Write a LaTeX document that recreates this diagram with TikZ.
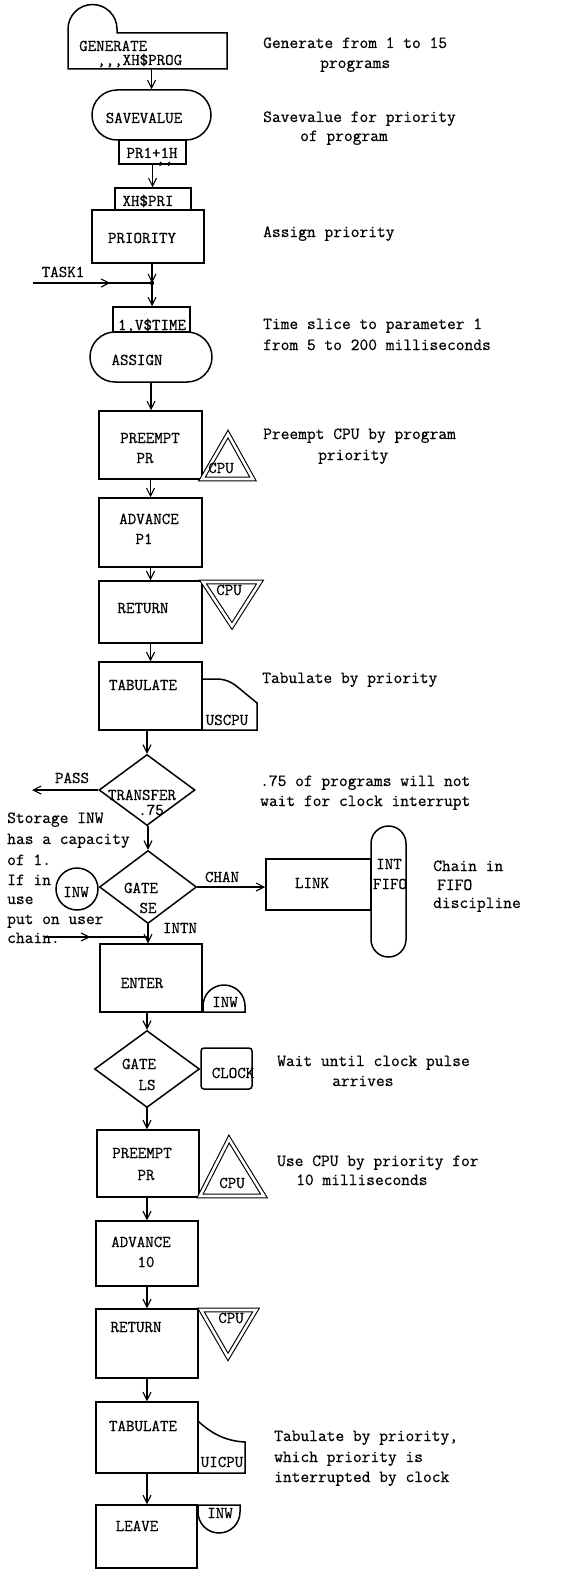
\documentclass[tikz,border=0pt]{standalone}
\usepackage{fontspec}
\newfontfamily\twfont{Latin Modern Mono}[FakeBold=0.6]
\usetikzlibrary{arrows.meta,shapes.geometric,decorations.markings,calc}
\begin{document}
\begin{tikzpicture}[x=1pt,y=-1pt,
  blk/.style={draw, line width=1.5pt, inner sep=0pt, rectangle},
  shp/.style={line width=1.5pt},
  dbl/.style={line width=1.1pt, double, double distance=2.6pt},
  lbl/.style={font=\fontsize{16.5}{19}\selectfont\twfont, inner sep=0pt, anchor=base},
  lblw/.style={font=\fontsize{16.5}{19}\selectfont\twfont, inner sep=0pt, anchor=base west},
  cmt/.style={font=\fontsize{17}{21}\selectfont\twfont, inner sep=0pt, anchor=base west},
  arr/.style={line width=1.1pt, -{Straight Barb[length=8pt,width=8pt]}},
  midarr/.style={line width=1.1pt, postaction={decorate},
    decoration={markings, mark=at position #1 with {\arrow{Straight Barb[length=8pt,width=8pt]}}}},
]
\fill[white] (0,0) rectangle (584,1570);
\useasboundingbox (0,0) rectangle (584,1570);

% ---------- blocks ----------
\node[inner sep=0pt, minimum width=159, minimum height=36] (gen) at (147.5,51) {};
\draw[shp] (68,69) -- (68,29) .. controls (68,15.5) and (79,4.5) .. (92.5,4.5)
  .. controls (106,4.5) and (117,15.5) .. (117,29) -- (117,33) -- (227,33) -- (227,69) -- cycle;
\node[blk, rounded corners=25pt, minimum width=119, minimum height=50] (save) at (151.5,115) {};
\node[blk, minimum width=67, minimum height=24] (pr1) at (152.5,152) {};
\node[blk, minimum width=76, minimum height=22] (xhpri) at (153,199) {};
\node[blk, minimum width=112, minimum height=53] (prio) at (148,236.5) {};
\node[blk, minimum width=77, minimum height=25] (vtime) at (151.5,319.5) {};
\node[blk, rounded corners=25pt, minimum width=122, minimum height=50] (assign) at (151,357) {};
\node[blk, minimum width=103, minimum height=68] (pre1) at (150.5,445) {};
\node[blk, minimum width=103, minimum height=69] (adv1) at (150.5,532.5) {};
\node[blk, minimum width=103, minimum height=62] (ret1) at (150.5,612) {};
\node[blk, minimum width=103, minimum height=68] (tab1) at (150.5,696) {};
\node[draw, line width=1.5pt, diamond, inner sep=0pt, minimum width=96, minimum height=71] (transfer) at (147,790) {};
\node[draw, line width=1.5pt, diamond, inner sep=0pt, minimum width=97, minimum height=73] (gate1) at (148,887) {};
\node[draw, line width=1.5pt, circle, inner sep=0pt, minimum size=42] (inw1) at (77,889) {};
\node[blk, minimum width=105, minimum height=51] (link) at (318.5,884.5) {};
\node[blk, rounded corners=17.5pt, minimum width=35, minimum height=131] (intfifo) at (388.5,891.5) {};
\node[blk, minimum width=102, minimum height=68] (enter) at (151,978) {};
\node[draw, line width=1.5pt, diamond, inner sep=0pt, minimum width=105, minimum height=77] (gate2) at (147,1069) {};
\node[blk, rounded corners=3pt, minimum width=51, minimum height=41] (clock) at (226.5,1068.5) {};
\node[blk, minimum width=102, minimum height=67] (pre2) at (148,1163.5) {};
\node[blk, minimum width=102, minimum height=65] (adv2) at (147,1253.5) {};
\node[blk, minimum width=102, minimum height=69] (ret2) at (147,1343.5) {};
\node[blk, minimum width=102, minimum height=71] (tab2) at (147,1437.5) {};
\node[blk, minimum width=101, minimum height=63] (leave) at (146.5,1536.5) {};

% ---------- attached symbols ----------
\draw[dbl] (202,479) -- (228,434) -- (253,479) -- cycle;
\draw[dbl] (203,582) -- (260,582) -- (232,626) -- cycle;
\draw[shp] (202,679) -- (216,679) .. controls (228,679) and (234,684) .. (240,689) -- (257,703) -- (257,730) -- (202,730);
\draw[shp] (203,1012) -- (203,1006) .. controls (203,994.4) and (212.4,985) .. (224,985)
  .. controls (235.6,985) and (245,994.4) .. (245,1006) -- (245,1012) -- cycle;
\draw[dbl] (200,1196) -- (229,1139) -- (264,1196) -- cycle;
\draw[dbl] (201,1310) -- (256,1310) -- (228,1357) -- cycle;
\draw[shp] (198,1421) .. controls (212,1434) and (226,1441) .. (245,1442) -- (245,1473) -- (198,1473);
\draw[shp] (198,1505) -- (240,1505) -- (240,1512) .. controls (240,1523.6) and (230.6,1533) .. (219,1533)
  .. controls (207.4,1533) and (198,1523.6) .. (198,1512) -- cycle;

% ---------- connectors ----------
\coordinate (j1) at (152,283);
\coordinate (task) at (33,283);
\coordinate (pass) at (32,790);
\coordinate (j2) at (148,937);
\coordinate (usr) at (45,937);

\draw[arr] (save.north |- gen.south) -- (save.north);
\draw[arr] (pr1.south) -- (pr1.south |- xhpri.north);
\draw[arr] (j1 |- prio.south) -- (j1);
\fill (j1) circle (2.2);
\draw[arr] (j1) -- (j1 |- vtime.north);
\draw[midarr=0.65] (task) -- (j1);
\draw[arr] (assign.south) -- (assign.south |- pre1.north);
\draw[arr] (pre1.south) -- (adv1.north);
\draw[arr] (adv1.south) -- (ret1.north);
\draw[arr] (ret1.south) -- (tab1.north);
\draw[arr] (transfer.north |- tab1.south) -- (transfer.north);
\draw[arr] (transfer.west) -- (pass);
\draw[arr] (gate1.north |- transfer.south) -- (gate1.north);
\draw[arr] (gate1.east) -- (link.west |- gate1.east);
\draw[arr] (gate1.south) -- (gate1.south |- enter.north);
\draw[midarr=0.44] (usr) -- (j2);
\draw[arr] (gate2.north |- enter.south) -- (gate2.north);
\draw[arr] (gate2.south) -- (gate2.south |- pre2.north);
\draw[arr] (adv2.north |- pre2.south) -- (adv2.north);
\draw[arr] (adv2.south) -- (ret2.north);
\draw[arr] (ret2.south) -- (tab2.north);
\draw[arr] (tab2.south) -- (tab2.south |- leave.north);

% ---------- block labels ----------
\node[lblw] (tgen) at (79,51) {GENERATE};
\node[lblw] (tgen2) at (97,65) {,,,XH\$PROG};
\node[lbl] (tsave) at (144,123) {SAVEVALUE};
\node[lbl] (tpr1) at (152,158) {PR1+1H};
\node[lbl] (tpr1c) at (165,163.5) {,,};
\node[lbl] (txh) at (148,206) {XH\$PRI};
\node[lbl] (tprio) at (142,243) {PRIORITY};
\node[lbl] (ttask) at (63,277) {TASK1};
\node[lbl] (tvt) at (152,330) {1,V\$TIME};
\node[lbl] (tasg) at (137,365) {ASSIGN};
\node[lbl] (tpre1) at (150,443) {PREEMPT};
\node[lbl] (tpr1b) at (145,463) {PR};
\node[lbl] (tcpu1) at (221,473) {CPU};
\node[lbl] (tadv1) at (149,524) {ADVANCE};
\node[lbl] (tp1) at (144,544) {P1};
\node[lbl] (tcpu2) at (229,595) {CPU};
\node[lbl] (tret1) at (143,613) {RETURN};
\node[lbl] (ttab1) at (143,690) {TABULATE};
\node[lbl] (tus) at (227,725) {USCPU};
\node[lbl] (tpass) at (72,783) {PASS};
\node[lbl] (ttr) at (142,800) {TRANSFER};
\node[lbl] (t75) at (151,815) {.75};
\node[lbl] (tg1) at (141,893) {GATE};
\node[lbl] (tse) at (148,913) {SE};
\node[lbl] (tinw1) at (76,897) {INW};
\node[lbl] (tchan) at (222,882) {CHAN};
\node[lbl] (tlink) at (312,888) {LINK};
\node[lbl] (tint) at (389,869) {INT};
\node[lbl] (tfifo) at (390,889) {FIFO};
\node[lbl] (tintn) at (180,933) {INTN};
\node[lbl] (tenter) at (142,988) {ENTER};
\node[lbl] (tinw2) at (225,1007) {INW};
\node[lbl] (tg2) at (139,1069) {GATE};
\node[lbl] (tls) at (147,1090) {LS};
\node[lbl] (tclock) at (233,1078) {CLOCK};
\node[lbl] (tpre2) at (142,1158) {PREEMPT};
\node[lbl] (tpr2) at (146,1180) {PR};
\node[lbl] (tcpu3) at (232,1188) {CPU};
\node[lbl] (tadv2) at (141,1247) {ADVANCE};
\node[lbl] (t10) at (146,1267) {10};
\node[lbl] (tret2) at (136,1332) {RETURN};
\node[lbl] (tcpu4) at (231,1323) {CPU};
\node[lbl] (ttab2) at (143,1431) {TABULATE};
\node[lbl] (tui) at (222,1467) {UICPU};
\node[lbl] (tleave) at (137,1531) {LEAVE};
\node[lbl] (tinw3) at (220,1518) {INW};

% ---------- comments ----------
\node[cmt] (c1a) at (263,48) {Generate from 1 to 15};
\node[cmt] (c1b) at (320,68) {programs};
\node[cmt] (c2a) at (263,122) {Savevalue for priority};
\node[cmt] (c2b) at (300,141) {of program};
\node[cmt] (c3) at (263,237) {Assign priority};
\node[cmt] (c4a) at (263,329) {Time slice to parameter 1};
\node[cmt] (c4b) at (263,350) {from 5 to 200 milliseconds};
\node[cmt] (c5a) at (263,439) {Preempt CPU by program};
\node[cmt] (c5b) at (318,460) {priority};
\node[cmt] (c6) at (262,683) {Tabulate by priority};
\node[cmt] (c7a) at (260,786) {.75 of programs will not};
\node[cmt] (c7b) at (260,806) {wait for clock interrupt};
\node[cmt] (s1) at (7,823) {Storage INW};
\node[cmt] (s2) at (7,844) {has a capacity};
\node[cmt] (s3) at (7,865) {of 1.};
\node[cmt] (s4) at (7,885) {If in};
\node[cmt] (s5) at (7,904) {use};
\node[cmt] (s6) at (7,924) {put on user};
\node[cmt] (s7) at (7,943) {chain.};
\node[cmt] (c8a) at (433,871) {Chain in};
\node[cmt] (c8b) at (437,890) {FIFO};
\node[cmt] (c8c) at (433,908) {discipline};
\node[cmt] (c9a) at (277,1066) {Wait until clock pulse};
\node[cmt] (c9b) at (332,1086) {arrives};
\node[cmt] (c10a) at (277,1166) {Use CPU by priority for};
\node[cmt] (c10b) at (296,1185) {10 milliseconds};
\node[cmt] (c11a) at (274,1441) {Tabulate by priority,};
\node[cmt] (c11b) at (274,1462) {which priority is};
\node[cmt] (c11c) at (274,1482) {interrupted by clock};
\end{tikzpicture}
\end{document}
